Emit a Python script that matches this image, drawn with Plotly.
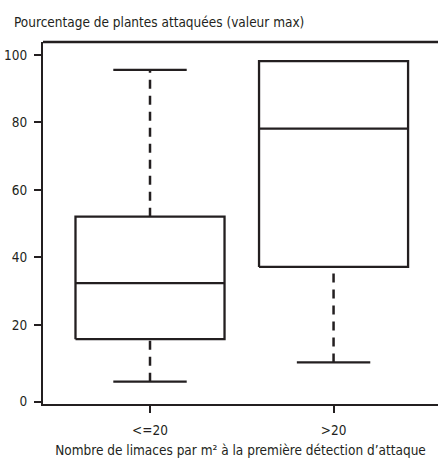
import plotly.graph_objects as go

categories = ["<=20", ">20"]
lower = [3.2, 8.9]
q1 = [15.8, 37.2]
median = [32.4, 78.2]
q3 = [52.1, 98.2]
upper = [95.6, 98.2]
y_tick_vals = [-2.7, 20, 40, 60, 80, 100]
y_tick_text = ["0", "20", "40", "60", "80", "100"]

INK = "#231f20"
FONT = "DejaVu Sans Condensed, Liberation Sans Narrow, sans-serif"
FS = 13.5
BW = 0.406
CW = 0.2

fig = go.Figure()
for i, cat in enumerate(categories):
    fig.add_trace(go.Scatter(
        x=[i - BW, i + BW, i + BW, i - BW, i - BW],
        y=[q1[i], q1[i], q3[i], q3[i], q1[i]],
        mode="lines", line=dict(color=INK, width=2.3), hoverinfo="skip", showlegend=False))
    fig.add_trace(go.Scatter(
        x=[i - BW, i + BW], y=[median[i], median[i]],
        mode="lines", line=dict(color=INK, width=2.3), showlegend=False))
    if upper[i] > q3[i]:
        fig.add_trace(go.Scatter(
            x=[i, i], y=[q3[i], upper[i]], mode="lines",
            line=dict(color=INK, width=2.5, dash="9px,7px"), showlegend=False))
        fig.add_trace(go.Scatter(
            x=[i - CW, i + CW], y=[upper[i], upper[i]], mode="lines",
            line=dict(color=INK, width=2.3), showlegend=False))
    if lower[i] < q1[i]:
        fig.add_trace(go.Scatter(
            x=[i, i], y=[lower[i], q1[i]], mode="lines",
            line=dict(color=INK, width=2.5, dash="9px,7px"), showlegend=False))
        fig.add_trace(go.Scatter(
            x=[i - CW, i + CW], y=[lower[i], lower[i]], mode="lines",
            line=dict(color=INK, width=2.3), showlegend=False))

W, H = 438, 461
fig.update_layout(
    width=W, height=H,
    margin=dict(l=43, r=0, t=42, b=57, autoexpand=False),
    paper_bgcolor="white", plot_bgcolor="white",
    font=dict(family=FONT, size=FS, color=INK),
    title=dict(text="Pourcentage de plantes attaquées (valeur max)",
               xref="container", yref="container", x=14 / W, xanchor="left",
               y=1 - 22 / H, yanchor="middle", font=dict(family=FONT, size=FS, color=INK)),
    xaxis=dict(range=[-0.583, 1.569], tickvals=list(range(len(categories))), ticktext=categories,
               showgrid=False, zeroline=False, showline=True, linecolor=INK, linewidth=2.3,
               ticks="outside", ticklen=7, tickwidth=2.3, tickcolor=INK, ticklabelstandoff=6,
               automargin=False,
               title=dict(text="Nombre de limaces par m² à la première détection d’attaque",
                          standoff=8, font=dict(family=FONT, size=FS, color=INK))),
    yaxis=dict(range=[-3.41, 103.85], tickvals=y_tick_vals, ticktext=y_tick_text,
               showgrid=False, zeroline=False, showline=True, linecolor=INK, linewidth=2.3,
               ticks="outside", ticklen=7, tickwidth=2.3, tickcolor=INK, ticklabelstandoff=4,
               automargin=False),
)
fig.add_shape(type="line", xref="paper", yref="paper", x0=0, x1=1, y0=1, y1=1,
              line=dict(color=INK, width=2.3))

fig.write_html("out.html", config={"displayModeBar": False},
               post_script="document.body.style.margin='0';document.body.style.overflow='hidden';")
